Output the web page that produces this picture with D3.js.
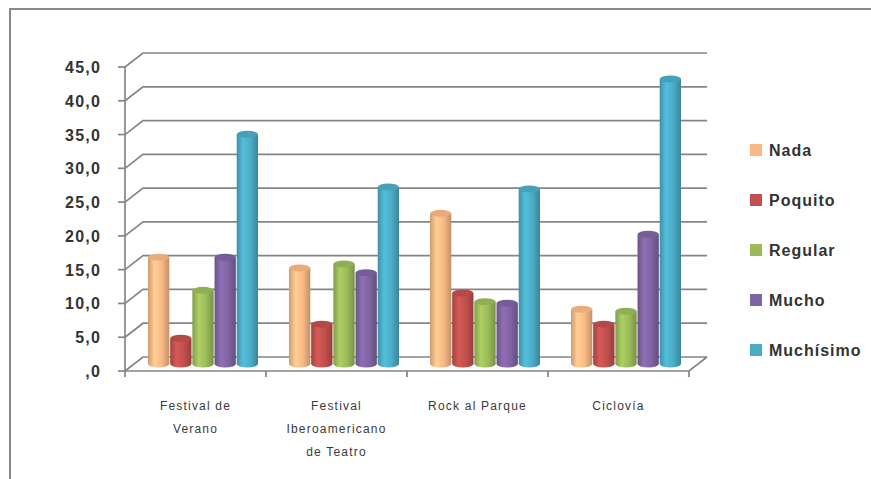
<!DOCTYPE html>
<html>
<head>
<meta charset="utf-8">
<script src="https://cdn.jsdelivr.net/npm/d3@7"></script>
<style>
  body { margin: 0; background: #fff; }
  svg { display: block; }
</style>
</head>
<body>
<svg id="chart" width="871" height="479"></svg>
<script>
// data
const categories = [
  ["Festival de", "Verano"],
  ["Festival", "Iberoamericano", "de Teatro"],
  ["Rock al Parque"],
  ["Ciclovía"]
];
const series = ["Nada", "Poquito", "Regular", "Mucho", "Muchísimo"];
const nada      = [15.8, 14.2, 22.3, 8.1];
const poquito   = [3.8, 5.9, 10.5, 5.9];
const regular   = [10.9, 14.8, 9.2, 7.8];
const mucho     = [15.8, 13.5, 9.0, 19.2];
const muchisimo = [34.0, 26.2, 25.9, 42.2];
const yTicks = [0, 5, 10, 15, 20, 25, 30, 35, 40, 45];
const colors = ["#F9B985", "#C0504D", "#9BBB59", "#8064A2", "#4BACC6"];

const values = [nada, poquito, regular, mucho, muchisimo];

run();

function run () {
  const svg = d3.select("#chart");

  // frame of the chart area (only top and left show in the picture)
  svg.append("path")
    .attr("d", "M10,479 L10,9 L871,9")
    .attr("fill", "none")
    .attr("stroke", "#8a8a8a")
    .attr("stroke-width", 2);

  const left = 125, right = 689, bottom = 371, top = 67;
  const depth = { dx: 18, dy: -14 };   // back wall offset
  const mid = { dx: 9, dy: -7 };       // where the bars stand

  const y = d3.scaleLinear().domain([0, 45]).range([bottom, top]);
  const x0 = d3.scaleBand().domain(d3.range(categories.length)).range([left, right]);
  const x1 = d3.scaleBand().domain(series).range([14, 124]).paddingInner(0.04);

  const grid = svg.append("g")
    .attr("stroke", "#858585")
    .attr("stroke-width", 1.7)
    .attr("fill", "none");

  // back wall gridlines + side wall diagonals
  yTicks.forEach(function (t) {
    const yy = y(t);
    grid.append("path")
      .attr("d", `M${left},${yy} L${left + depth.dx},${yy + depth.dy} L${right + depth.dx},${yy + depth.dy}`);
  });

  // floor
  grid.append("path")
    .attr("d", `M${left},${bottom} L${right},${bottom} L${right + depth.dx},${bottom + depth.dy}`);

  // front value axis + ticks
  grid.append("line")
    .attr("x1", left).attr("x2", left)
    .attr("y1", y(45)).attr("y2", bottom);
  yTicks.forEach(function (t) {
    grid.append("line")
      .attr("x1", left - 7).attr("x2", left)
      .attr("y1", y(t)).attr("y2", y(t));
  });

  // category ticks
  d3.range(1, categories.length + 1).forEach(function (i) {
    const xx = i < categories.length ? x0(i) : right;
    grid.append("line")
      .attr("x1", xx).attr("x2", xx)
      .attr("y1", bottom).attr("y2", bottom + 6);
  });
  grid.append("line")
    .attr("x1", left).attr("x2", left)
    .attr("y1", bottom).attr("y2", bottom + 6);

  // gradients for the cylinders
  const defs = svg.append("defs");
  colors.forEach(function (c, i) {
    const base = d3.color(c);
    const g = defs.append("linearGradient")
      .attr("id", "grad" + i)
      .attr("x1", "0%").attr("x2", "100%")
      .attr("y1", "0%").attr("y2", "0%");
    g.append("stop").attr("offset", "0%").attr("stop-color", base.darker(0.5));
    g.append("stop").attr("offset", "30%").attr("stop-color", base.brighter(0.3));
    g.append("stop").attr("offset", "65%").attr("stop-color", base);
    g.append("stop").attr("offset", "100%").attr("stop-color", base.darker(0.7));
  });

  // bars as cylinders
  const bw = x1.bandwidth();
  const ry = 3.5;
  const bars = svg.append("g");
  categories.forEach(function (cat, ci) {
    series.forEach(function (s, si) {
      const v = values[si][ci];
      const bx = x0(ci) + x1(s) + mid.dx;
      const yt = y(v) + mid.dy;
      const yb = y(0) + mid.dy;
      const cx = bx + bw / 2;
      bars.append("ellipse")
        .attr("cx", cx).attr("cy", yb)
        .attr("rx", bw / 2).attr("ry", ry)
        .attr("fill", "url(#grad" + si + ")");
      bars.append("rect")
        .attr("x", bx).attr("y", yt)
        .attr("width", bw).attr("height", yb - yt)
        .attr("fill", "url(#grad" + si + ")");
      bars.append("ellipse")
        .attr("cx", cx).attr("cy", yt)
        .attr("rx", bw / 2).attr("ry", ry)
        .attr("fill", d3.color(colors[si]).darker(0.2));
    });
  });

  // value labels
  svg.append("g")
    .selectAll("text")
    .data(yTicks)
    .join("text")
    .attr("x", 101)
    .attr("y", function (t) { return y(t) + 6; })
    .attr("text-anchor", "end")
    .attr("font-family", "Liberation Sans, Arial, sans-serif")
    .attr("font-weight", "bold")
    .attr("font-size", 16)
    .attr("letter-spacing", 1.2)
    .attr("fill", "#333")
    .text(function (t) { return t === 0 ? ",0" : t.toFixed(1).replace(".", ","); });

  // category labels
  const catG = svg.append("g")
    .attr("font-family", "Liberation Sans, Arial, sans-serif")
    .attr("font-size", 12)
    .attr("fill", "#3a3a3a")
    .attr("letter-spacing", 1.2)
    .attr("text-anchor", "middle");
  categories.forEach(function (lines, ci) {
    const cx = x0(ci) + x0.bandwidth() / 2;
    lines.forEach(function (line, li) {
      catG.append("text")
        .attr("x", cx)
        .attr("y", 410 + li * 23)
        .text(line);
    });
  });

  // legend
  const leg = svg.append("g")
    .attr("font-family", "Liberation Sans, Arial, sans-serif")
    .attr("font-weight", "bold")
    .attr("font-size", 16)
    .attr("letter-spacing", 1)
    .attr("fill", "#333");
  series.forEach(function (s, i) {
    const ly = 150 + i * 50;
    leg.append("rect")
      .attr("x", 750).attr("y", ly - 6)
      .attr("width", 12).attr("height", 12)
      .attr("fill", colors[i]);
    leg.append("text")
      .attr("x", 769).attr("y", ly + 6)
      .text(s);
  });
}
</script>
</body>
</html>
